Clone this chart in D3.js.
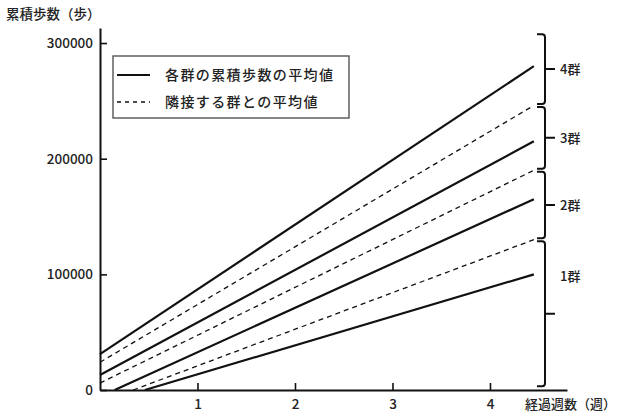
<!DOCTYPE html>
<html><head><meta charset="utf-8">
<script src="https://cdn.jsdelivr.net/npm/d3@7"></script>
<style>
body{margin:0;background:#fff;}
svg{display:block;font-family:"Noto Sans CJK JP","Noto Sans",sans-serif;}
svg text{font-weight:500;}
</style></head>
<body><svg id="c" width="622" height="418"></svg>
<script>
// ---- data ----
const xTicks = [1, 2, 3, 4];
const yTicks = [0, 100000, 200000, 300000];
const seriesNames = ["4群", "3-4群", "3群", "2-3群", "2群", "1-2群", "1群"];
const seriesDashed = [false, true, false, true, false, true, false];
const startWeeks = [0, 0, 0, 0, 0.15, 0.34, 0.46];
const startValues = [31000, 24000, 13000, 6000, 0, 0, 0];
const endWeeks = [4.45, 4.45, 4.45, 4.45, 4.45, 4.45, 4.45];
const endValues = [280000, 246000, 215000, 190000, 165000, 130000, 100000];
const groupLabels = ["1群", "2群", "3群", "4群"];
const bracketBounds = [2000, 130000, 190000, 246000, 309000];
const groupLabelValues = [98000, 160000, 218000, 277500];
const legendLabels = ["各群の累積歩数の平均値", "隣接する群との平均値"];
const yTitle = "累積歩数（歩）";
const xTitle = "経過週数（週）";

// ---- layout ----
const svg = d3.select("#c");
const x = d3.scaleLinear().domain([0, 4.79]).range([100, 567]);
const y = d3.scaleLinear().domain([0, 313000]).range([390, 28]);

// axes
const yAxis = d3.axisLeft(y).tickValues(yTicks).tickFormat(d3.format("d"))
  .tickSizeInner(-7).tickSizeOuter(0).tickPadding(7);
const gy = svg.append("g").attr("transform", "translate(100,0)").call(yAxis);
const xAxis = d3.axisBottom(x).tickValues(xTicks).tickFormat(d3.format("d"))
  .tickSizeInner(-7).tickSizeOuter(0).tickPadding(9);
const gx = svg.append("g").attr("transform", "translate(0,390)").call(xAxis);
[gx, gy].forEach(g => {
  g.select(".domain").attr("stroke", "#111").attr("stroke-width", 2);
  g.selectAll(".tick line").attr("stroke", "#111").attr("stroke-width", 1.6);
  g.selectAll("text").attr("font-size", 13.5).attr("fill", "#222")
    .attr("font-family", '"Noto Sans CJK JP","Noto Sans",sans-serif');
});

// lines
const line = d3.line().x(d => x(d[0])).y(d => y(d[1]));
seriesNames.forEach((n, i) => {
  svg.append("path")
    .attr("d", line([[startWeeks[i], startValues[i]], [endWeeks[i], endValues[i]]]))
    .attr("fill", "none").attr("stroke", "#111")
    .attr("stroke-width", seriesDashed[i] ? 1.3 : 2.2)
    .attr("stroke-dasharray", seriesDashed[i] ? "5,4" : null);
});

// brackets
const bx = 545, gap = 1.5;
for (let i = 0; i < groupLabels.length; i++) {
  const yt = y(bracketBounds[i + 1]) + gap;
  const yb = y(bracketBounds[i]) - gap;
  const ym = y((bracketBounds[i] + bracketBounds[i + 1]) / 2);
  const p = `M${bx-8},${yt} L${bx-3},${yt} Q${bx},${yt} ${bx},${yt+3} L${bx},${yb-3} Q${bx},${yb} ${bx-3},${yb} L${bx-8},${yb} M${bx},${ym} L${bx+10},${ym}`;
  svg.append("path").attr("d", p).attr("fill", "none").attr("stroke", "#111").attr("stroke-width", 2);
  svg.append("text").attr("x", 560).attr("y", y(groupLabelValues[i])).attr("dy", "0.36em")
    .attr("font-size", 13).attr("fill", "#222").text(groupLabels[i]);
}

// legend
svg.append("rect").attr("x", 113).attr("y", 56).attr("width", 236).attr("height", 62)
  .attr("fill", "#fff").attr("stroke", "#555").attr("stroke-width", 1.4);
legendLabels.forEach((t, i) => {
  const ly = 75 + i * 27;
  svg.append("line").attr("x1", 117).attr("x2", 150).attr("y1", ly).attr("y2", ly)
    .attr("stroke", "#111").attr("stroke-width", i ? 1.3 : 2.2)
    .attr("stroke-dasharray", i ? "4,4" : null);
  svg.append("text").attr("x", 165).attr("y", ly).attr("dy", "0.36em")
    .attr("font-size", 14).attr("letter-spacing", 1.4).attr("fill", "#222").text(t);
});

// titles
svg.append("text").attr("x", 6).attr("y", 14).attr("dy", "0.36em")
  .attr("font-size", 13.5).attr("fill", "#222").text(yTitle);
svg.append("text").attr("x", 525).attr("y", 404).attr("dy", "0.36em")
  .attr("font-size", 13).attr("fill", "#222").text(xTitle);
</script></body></html>
